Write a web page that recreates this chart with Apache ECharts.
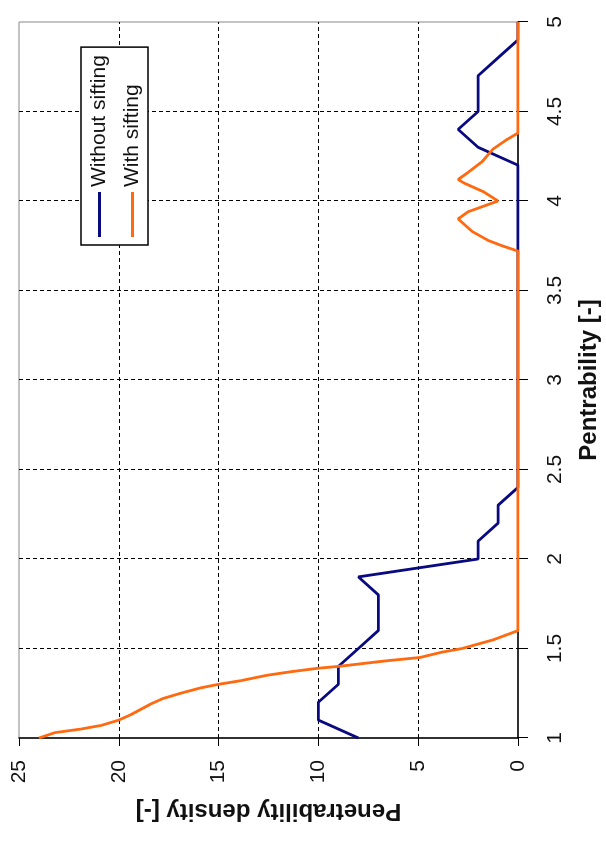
<!DOCTYPE html>
<html>
<head>
<meta charset="utf-8">
<style>
html,body{margin:0;padding:0;background:#fff;overflow:hidden;width:606px;height:842px;}
#chart{position:absolute;left:0;top:0;width:842px;height:606px;transform-origin:0 0;transform:translate(0,842px) rotate(-90deg);}
</style>
<script src="https://cdn.jsdelivr.net/npm/echarts/dist/echarts.min.js"></script>
</head>
<body>
<div id="chart"></div>
<script>
// Pentrability values (x) and density values for "Without sifting"
const pentNavy = [1.0,1.1,1.2,1.3,1.4,1.5,1.6,1.7,1.8,1.9,2.0,2.1,2.2,2.3,2.4,2.5,2.6,2.7,2.8,2.9,3.0,3.1,3.2,3.3,3.4,3.5,3.6,3.7,3.8,3.9,4.0,4.1,4.2,4.3,4.4,4.5,4.6,4.7,4.8,4.9,5.0];
const densityNavy = [8,10,10,9,9,8,7,7,7,8,2,2,1,1,0,0,0,0,0,0,0,0,0,0,0,0,0,0,0,0,0,0,0,2,3,2,2,2,1,0,0];

// "With sifting"
const pentOrange = [1.00,1.03,1.05,1.07,1.10,1.13,1.16,1.19,1.22,1.25,1.28,1.30,1.32,1.35,1.37,1.39,1.40,1.43,1.45,1.48,1.50,1.55,1.60,3.72,3.75,3.78,3.83,3.90,3.94,3.98,4.00,4.05,4.10,4.12,4.16,4.22,4.29,4.34,4.38,5.00];
const densityOrange = [24.0,23.2,21.9,20.9,20.0,19.4,18.9,18.4,17.8,16.9,15.9,15.0,13.9,12.6,11.4,10.0,9.0,6.7,4.9,3.8,2.8,1.2,0,0,0.8,1.5,2.3,3.0,2.5,1.5,1.0,1.7,2.7,3.0,2.5,1.8,1.25,0.6,0,0];

const seriesNames = ['Without sifting','With sifting'];
const xTitle = 'Pentrability [-]';
const yTitle = 'Penetrability density [-]';

const font = '"Liberation Sans", Arial, sans-serif';
const chart = echarts.init(document.getElementById('chart'));
chart.setOption({
  animation:false,
  backgroundColor:'#fff',
  grid:{left:104,right:22,top:19,bottom:86,show:true,borderColor:'#888',borderWidth:1,backgroundColor:'#fff'},
  legend:{
    orient:'vertical',left:597,top:81,padding:[8,8,5,8],itemGap:12,itemWidth:45,itemHeight:3,
    icon:'rect',
    borderColor:'#000',borderWidth:1.5,backgroundColor:'#fff',
    textStyle:{fontSize:21,fontFamily:font,color:'#111'},
    data:seriesNames
  },
  xAxis:{
    type:'value',min:1,max:5,interval:0.5,
    name:xTitle,nameLocation:'middle',nameGap:59,
    nameTextStyle:{fontSize:24,fontWeight:'bold',fontFamily:font,color:'#111'},
    axisLine:{show:true,lineStyle:{color:'#000',width:1.5}},
    axisTick:{show:true,inside:false,length:10,lineStyle:{color:'#000',width:1}},
    axisLabel:{fontSize:21,fontFamily:font,color:'#111',margin:27},
    splitLine:{show:true,showMinLine:false,showMaxLine:false,lineStyle:{type:[4,3],color:'#000',width:1}}
  },
  yAxis:{
    type:'value',min:0,max:25,interval:5,
    name:yTitle,nameLocation:'middle',nameGap:61,
    nameTextStyle:{fontSize:24,fontWeight:'bold',fontFamily:font,color:'#111'},
    axisLine:{show:true,lineStyle:{color:'#000',width:1.5}},
    axisTick:{show:true,inside:false,length:8,lineStyle:{color:'#000',width:1}},
    axisLabel:{fontSize:21,fontFamily:font,color:'#111',margin:22},
    splitLine:{show:true,showMinLine:false,showMaxLine:false,lineStyle:{type:[4,3],color:'#000',width:1}}
  },
  series:[
    {name:seriesNames[0],type:'line',symbol:'none',color:'#0a0a80',lineStyle:{width:2.8,color:'#0a0a80'},
     data:pentNavy.map((p,i)=>[p,densityNavy[i]])},
    {name:seriesNames[1],type:'line',symbol:'none',color:'#ff6a10',lineStyle:{width:2.8,color:'#ff6a10'},
     data:pentOrange.map((p,i)=>[p,densityOrange[i]])}
  ]
});
</script>
</body>
</html>
